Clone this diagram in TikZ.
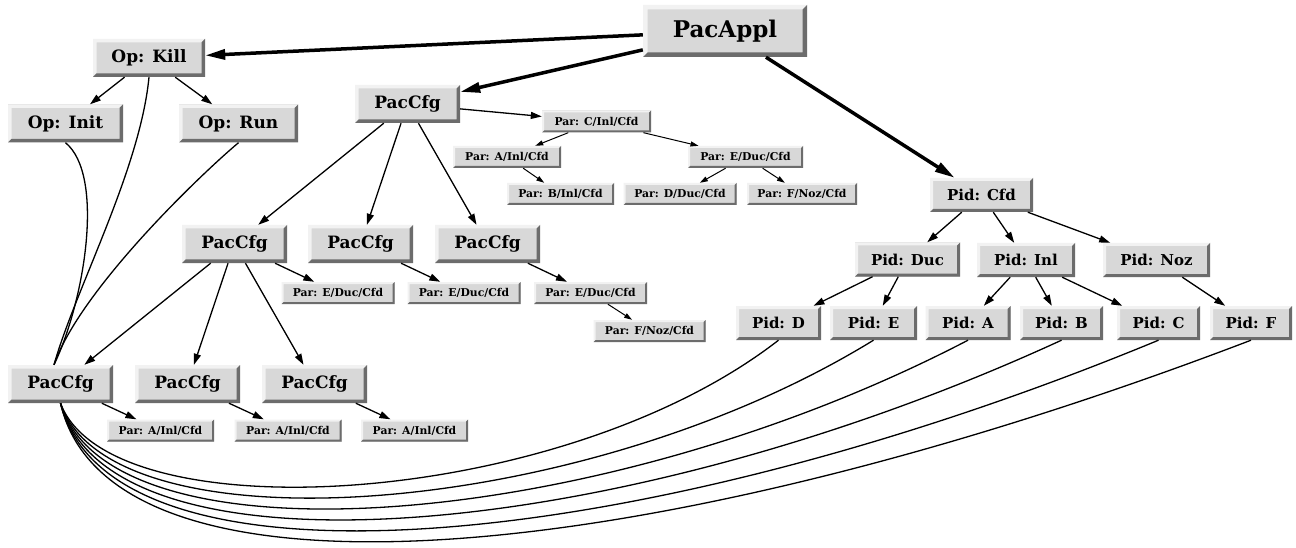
\documentclass[tikz,border=0pt]{standalone}
\usepackage{fontspec}
\setmainfont{DejaVu Serif}
\usetikzlibrary{arrows.meta}
\definecolor{boxfill}{RGB}{216,216,216}
\definecolor{bvlight}{RGB}{242,242,242}
\definecolor{bvdark}{RGB}{108,108,108}
\newcommand\bevelfill[1]{%
\fill[bvlight] (path picture bounding box.north west) -- (path picture bounding box.north east) -- ([xshift=-#1,yshift=-#1]path picture bounding box.north east) -- ([xshift=#1,yshift=-#1]path picture bounding box.north west) -- ([xshift=#1,yshift=#1]path picture bounding box.south west) -- (path picture bounding box.south west) -- cycle;
\fill[bvdark] (path picture bounding box.south west) -- (path picture bounding box.south east) -- (path picture bounding box.north east) -- ([xshift=-#1,yshift=-#1]path picture bounding box.north east) -- ([xshift=-#1,yshift=#1]path picture bounding box.south east) -- ([xshift=#1,yshift=#1]path picture bounding box.south west) -- cycle;}
\tikzset{
  bevbox/.style={rectangle, fill=boxfill, inner sep=0pt, path picture={\bevelfill{#1}}},
  bignode/.style={bevbox=4.5pt, minimum height=52pt, font=\fontsize{23}{27}\selectfont\bfseries},
  mednode/.style={bevbox=3.5pt, minimum height=38pt, font=\fontsize{17}{20}\selectfont\bfseries},
  pidnode/.style={bevbox=3pt, minimum height=34pt, font=\fontsize{15}{18}\selectfont\bfseries},
  parnode/.style={bevbox=2pt, minimum height=22pt, font=\fontsize{10.8}{12}\selectfont\bfseries},
  bigarr/.style={line width=3.5pt, -{Triangle[length=20pt,width=10pt]}},
  arr/.style={line width=1.3pt, -{Triangle[length=11pt,width=7pt]}},
  parr/.style={line width=1pt, -{Triangle[length=8pt,width=5pt]}},
  link/.style={line width=1.3pt},
}
\begin{document}
\begin{tikzpicture}[x=1pt,y=-1pt]
\useasboundingbox[fill=white] (0,0) rectangle (1296,548);
% nodes
\node[bignode, minimum width=164pt] (app) at (725,31) {PacAppl};
\node[mednode, minimum width=112pt] (kill) at (149,58) {Op: Kill};
\node[mednode, minimum width=115pt] (init) at (65.5,123.5) {Op: Init};
\node[mednode, minimum width=119pt] (run) at (238.5,123.5) {Op: Run};
\node[mednode, minimum width=105pt] (cfg0) at (407.5,104) {PacCfg};
\node[parnode, minimum width=109pt] (parC) at (596.5,121.5) {Par: C/Inl/Cfd};
\node[parnode, minimum width=108pt] (parA0) at (507,157) {Par: A/Inl/Cfd};
\node[parnode, minimum width=107pt] (parB) at (560.5,194) {Par: B/Inl/Cfd};
\node[parnode, minimum width=115pt] (parE0) at (745.5,157) {Par: E/Duc/Cfd};
\node[parnode, minimum width=113pt] (parD) at (680,194) {Par: D/Duc/Cfd};
\node[parnode, minimum width=110pt] (parF0) at (802,194) {Par: F/Noz/Cfd};
\node[mednode, minimum width=105pt] (cfg1) at (234.5,244) {PacCfg};
\node[mednode, minimum width=105pt] (cfg2) at (360.5,244) {PacCfg};
\node[mednode, minimum width=105pt] (cfg3) at (487.5,244) {PacCfg};
\node[parnode, minimum width=113pt] (parE1) at (338,293) {Par: E/Duc/Cfd};
\node[parnode, minimum width=113pt] (parE2) at (464,293) {Par: E/Duc/Cfd};
\node[parnode, minimum width=113pt] (parE3) at (590.5,293) {Par: E/Duc/Cfd};
\node[parnode, minimum width=112pt] (parF1) at (649.5,331) {Par: F/Noz/Cfd};
\node[mednode, minimum width=105pt] (cfgL) at (60.5,384) {PacCfg};
\node[mednode, minimum width=105pt] (cfgM) at (187.5,384) {PacCfg};
\node[mednode, minimum width=105pt] (cfgR) at (314.5,384) {PacCfg};
\node[parnode, minimum width=107pt] (parA1) at (160.5,430.5) {Par: A/Inl/Cfd};
\node[parnode, minimum width=107pt] (parA2) at (288,430.5) {Par: A/Inl/Cfd};
\node[parnode, minimum width=107pt] (parA3) at (414.5,430.5) {Par: A/Inl/Cfd};
\node[pidnode, minimum width=103pt] (pcfd) at (981.5,195) {Pid: Cfd};
\node[pidnode, minimum width=105pt] (pduc) at (907.5,259.5) {Pid: Duc};
\node[pidnode, minimum width=98pt] (pinl) at (1026,260) {Pid: Inl};
\node[pidnode, minimum width=107pt] (pnoz) at (1156.5,260) {Pid: Noz};
\node[pidnode, minimum width=85pt] (pd) at (778.5,323) {Pid: D};
\node[pidnode, minimum width=87pt] (pe) at (873.5,323) {Pid: E};
\node[pidnode, minimum width=85pt] (pa) at (968,323) {Pid: A};
\node[pidnode, minimum width=83pt] (pb) at (1061.5,323) {Pid: B};
\node[pidnode, minimum width=83pt] (pc) at (1158.5,323) {Pid: C};
\node[pidnode, minimum width=82pt] (pf) at (1251,323) {Pid: F};
% thick edges
\draw[bigarr] (app) -- (kill);
\draw[bigarr] (app) -- (cfg0);
\draw[bigarr] (app) -- (pcfd);
% op edges
\draw[arr] (kill) -- (init);
\draw[arr] (kill) -- (run);
% cfg edges
\draw[arr] (cfg0) -- (parC);
\draw[arr] (cfg0) -- (cfg1);
\draw[arr] (cfg0) -- (cfg2);
\draw[arr] (cfg0) -- (cfg3);
\draw[arr] (cfg1) -- (parE1);
\draw[arr] (cfg2) -- (parE2);
\draw[arr] (cfg3) -- (parE3);
\draw[arr] (cfg1) -- (cfgL);
\draw[arr] (cfg1) -- (cfgM);
\draw[arr] (cfg1) -- (cfgR);
\draw[arr] (cfgL) -- (parA1);
\draw[arr] (cfgM) -- (parA2);
\draw[arr] (cfgR) -- (parA3);
% par edges
\draw[parr] (parC) -- (parA0);
\draw[parr] (parA0) -- (parB);
\draw[parr] (parC) -- (parE0);
\draw[parr] (parE0) -- (parD);
\draw[parr] (parE0) -- (parF0);
\draw[parr] (parE3) -- (parF1);
% pid edges
\draw[arr] (pcfd) -- (pduc);
\draw[arr] (pcfd) -- (pinl);
\draw[arr] (pcfd) -- (pnoz);
\draw[arr] (pduc) -- (pd);
\draw[arr] (pduc) -- (pe);
\draw[arr] (pinl) -- (pa);
\draw[arr] (pinl) -- (pb);
\draw[arr] (pinl) -- (pc);
\draw[arr] (pnoz) -- (pf);
% undirected links to the left PacCfg
\coordinate (Ltop) at ([xshift=-6.5pt]cfgL.north);
\draw[link] (init.south) .. controls (105,175) and (85,300) .. (Ltop);
\draw[link] (kill.south) .. controls (140,170) and (75,290) .. (Ltop);
\draw[link] (run.south) .. controls (200,175) and (80,290) .. (Ltop);
\draw[link] (cfgL.south) .. controls (110,535) and (560,510) .. (pd.south);
\draw[link] (cfgL.south) .. controls (110,552) and (578,522) .. (pe.south);
\draw[link] (cfgL.south) .. controls (110,569) and (596,534) .. (pa.south);
\draw[link] (cfgL.south) .. controls (110,586) and (614,546) .. (pb.south);
\draw[link] (cfgL.south) .. controls (110,603) and (632,558) .. (pc.south);
\draw[link] (cfgL.south) .. controls (110,620) and (650,570) .. (pf.south);
\end{tikzpicture}
\end{document}
